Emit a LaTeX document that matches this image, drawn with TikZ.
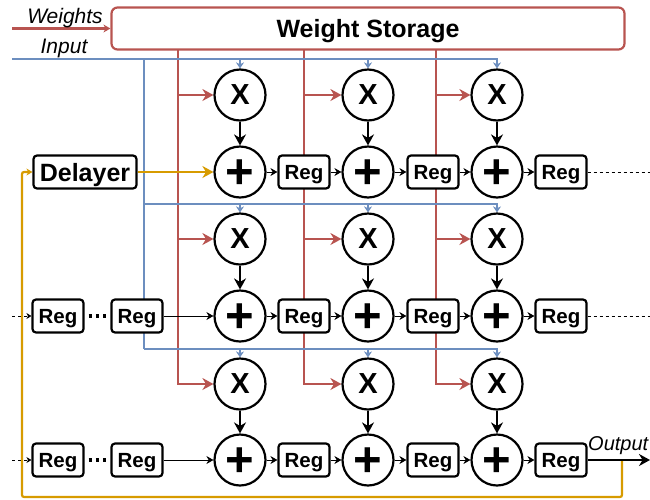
\documentclass[tikz,border=0pt]{standalone}
\usepackage{fontspec}
\setmainfont{Liberation Sans}
\usetikzlibrary{positioning, arrows.meta, backgrounds}

\definecolor{redline}{HTML}{B85450}
\definecolor{blueline}{HTML}{6C8EBF}
\definecolor{goldline}{HTML}{D79B00}

\begin{document}
\begin{tikzpicture}[
    x=1pt, y=-1pt,
    on grid,
    mulnode/.style={
        circle,
        draw,
        line width=2.2pt,
        fill=white,
        inner sep=0pt,
        minimum size=51pt,
        font=\fontsize{29}{29}\selectfont\bfseries
    },
    sumnode/.style={
        mulnode,
        text height=33.4pt,
        text depth=0pt,
        font=\fontsize{49}{49}\selectfont\bfseries
    },
    regnode/.style={
        rectangle,
        rounded corners=3.5pt,
        draw,
        line width=2.2pt,
        fill=white,
        inner sep=0pt,
        text depth=0pt,
        minimum width=51pt,
        minimum height=33pt,
        font=\fontsize{20.5}{20.5}\selectfont\bfseries
    },
    delaynode/.style={
        regnode,
        minimum width=103pt,
        font=\fontsize{25}{25}\selectfont\bfseries
    },
    storenode/.style={
        rectangle,
        rounded corners=6pt,
        draw=redline,
        line width=2.2pt,
        text depth=0pt,
        minimum width=513pt,
        minimum height=42pt,
        font=\fontsize{25}{25}\selectfont\bfseries
    },
    sidelabel/.style={
        inner sep=0pt,
        font=\fontsize{21}{21}\selectfont\itshape
    },
    blackptr/.style={
        -{Stealth[length=11pt, width=12pt]},
        line width=2.2pt
    },
    thinptr/.style={
        -{Stealth[length=7pt, width=8pt]},
        line width=1pt
    },
    redptr/.style={
        -{Stealth[length=11pt, width=12pt]},
        line width=2.2pt,
        redline
    },
    blueptr/.style={
        -{Stealth[length=6pt, width=8pt]},
        line width=2.2pt,
        blueline
    },
    bluebus/.style={
        line width=2.2pt,
        blueline
    },
    goldptr/.style={
        -{Stealth[length=11pt, width=12pt]},
        line width=2.2pt,
        goldline
    },
    dotline/.style={
        line width=1pt,
        dash pattern=on 3pt off 3pt
    },
    gapdots/.style={
        line width=3.4pt,
        dash pattern=on 3.4pt off 3.8pt,
        shorten >=4pt,
        shorten <=4pt
    }
]
    \useasboundingbox (0,0) rectangle (650,499);

    % Storage and side labels
    \node[storenode] (storage) at (368,28.5) {Weight Storage};
    \node[sidelabel] (weightsLabel) at (65,18) {Weights};
    \node[sidelabel] (inputLabel) at (64,48) {Input};
    \node[sidelabel, anchor=west, font=\fontsize{20}{20}\selectfont\itshape] (outputLabel) at (588,446) {Output};

    % Multipliers
    \node[mulnode] (mulA) at (240,95) {X};
    \node[mulnode, right=128pt of mulA] (mulB) {X};
    \node[mulnode, right=129pt of mulB] (mulC) {X};
    \node[mulnode] (mulD) at (240,239) {X};
    \node[mulnode, right=128pt of mulD] (mulE) {X};
    \node[mulnode, right=129pt of mulE] (mulF) {X};
    \node[mulnode] (mulG) at (240,384) {X};
    \node[mulnode, right=128pt of mulG] (mulH) {X};
    \node[mulnode, right=129pt of mulH] (mulI) {X};

    % Adders
    \node[sumnode, below=77pt of mulA] (sumA) {+};
    \node[sumnode, below=77pt of mulB] (sumB) {+};
    \node[sumnode, below=77pt of mulC] (sumC) {+};
    \node[sumnode, below=77pt of mulD] (sumD) {+};
    \node[sumnode, below=77pt of mulE] (sumE) {+};
    \node[sumnode, below=77pt of mulF] (sumF) {+};
    \node[sumnode, below=76pt of mulG] (sumG) {+};
    \node[sumnode, below=76pt of mulH] (sumH) {+};
    \node[sumnode, below=76pt of mulI] (sumI) {+};

    % Registers
    \node[regnode, right=64pt of sumA] (regA) {Reg};
    \node[regnode, right=65pt of sumB] (regB) {Reg};
    \node[regnode, right=64pt of sumC] (regC) {Reg};
    \node[regnode, right=64pt of sumD] (regD) {Reg};
    \node[regnode, right=65pt of sumE] (regE) {Reg};
    \node[regnode, right=64pt of sumF] (regF) {Reg};
    \node[regnode, right=64pt of sumG] (regG) {Reg};
    \node[regnode, right=65pt of sumH] (regH) {Reg};
    \node[regnode, right=64pt of sumI] (regI) {Reg};

    \node[delaynode, left=155pt of sumA] (delayer) {Delayer};
    \node[regnode, left=103pt of sumD] (regQ) {Reg};
    \node[regnode, left=79pt of regQ] (regP) {Reg};
    \node[regnode, left=103pt of sumG] (regS) {Reg};
    \node[regnode, left=79pt of regS] (regR) {Reg};

    % Free ends of the lines
    \coordinate (weightsIn) at (12,28.5);
    \coordinate (inputIn) at (12,59);
    \coordinate (blueDrop) at (144,59);
    \coordinate (blueMid) at (144,204);
    \coordinate (blueLow) at (144,349);
    \coordinate (redA) at (178,50);
    \coordinate (redB) at (304,50);
    \coordinate (redC) at (436,50);
    \coordinate (leftP) at (12,316);
    \coordinate (leftR) at (12,460);
    \coordinate (rightC) at (650,172);
    \coordinate (rightF) at (650,316);
    \coordinate (outEnd) at (650,460);
    \coordinate (goldOut) at (622,460);
    \coordinate (goldLeft) at (22,497);

    \begin{pgfonlayer}{background}
        % Weight lines
        \draw[redptr, -{Stealth[length=7pt, width=8pt]}] (weightsIn) -- (storage.west);
        \draw[redptr] (redA) |- (mulG);
        \draw[redptr] (redB) |- (mulH);
        \draw[redptr] (redC) |- (mulI);
        \draw[redptr] (redA |- mulA) -- (mulA);
        \draw[redptr] (redB |- mulB) -- (mulB);
        \draw[redptr] (redC |- mulC) -- (mulC);
        \draw[redptr] (redA |- mulD) -- (mulD);
        \draw[redptr] (redB |- mulE) -- (mulE);
        \draw[redptr] (redC |- mulF) -- (mulF);

        % Input lines
        \draw[blueptr] (inputIn) -| (mulC);
        \draw[bluebus] (blueDrop) -- (blueLow);
        \draw[blueptr] (blueMid) -| (mulF);
        \draw[blueptr] (blueLow) -| (mulI);
        \draw[blueptr] (mulA |- blueDrop) -- (mulA);
        \draw[blueptr] (mulB |- blueDrop) -- (mulB);
        \draw[blueptr] (mulD |- blueMid) -- (mulD);
        \draw[blueptr] (mulE |- blueMid) -- (mulE);
        \draw[blueptr] (mulG |- blueLow) -- (mulG);
        \draw[blueptr] (mulH |- blueLow) -- (mulH);
    \end{pgfonlayer}

    % Multiplier to adder
    \draw[blackptr] (mulA) -- (sumA);
    \draw[blackptr] (mulB) -- (sumB);
    \draw[blackptr] (mulC) -- (sumC);
    \draw[blackptr] (mulD) -- (sumD);
    \draw[blackptr] (mulE) -- (sumE);
    \draw[blackptr] (mulF) -- (sumF);
    \draw[blackptr] (mulG) -- (sumG);
    \draw[blackptr] (mulH) -- (sumH);
    \draw[blackptr] (mulI) -- (sumI);

    % Along the rows
    \draw[thinptr] (sumA) -- (regA);
    \draw[thinptr] (regA) -- (sumB);
    \draw[thinptr] (sumB) -- (regB);
    \draw[thinptr] (regB) -- (sumC);
    \draw[thinptr] (sumC) -- (regC);
    \draw[thinptr] (regQ) -- (sumD);
    \draw[thinptr] (sumD) -- (regD);
    \draw[thinptr] (regD) -- (sumE);
    \draw[thinptr] (sumE) -- (regE);
    \draw[thinptr] (regE) -- (sumF);
    \draw[thinptr] (sumF) -- (regF);
    \draw[thinptr] (regS) -- (sumG);
    \draw[thinptr] (sumG) -- (regG);
    \draw[thinptr] (regG) -- (sumH);
    \draw[thinptr] (sumH) -- (regH);
    \draw[thinptr] (regH) -- (sumI);
    \draw[thinptr] (sumI) -- (regI);

    % Dotted ends
    \draw[gapdots] (regP) -- (regQ);
    \draw[gapdots] (regR) -- (regS);
    \draw[dotline] (regC) -- (rightC);
    \draw[dotline] (regF) -- (rightF);
    \draw[dotline, -{Stealth[length=5pt, width=6pt]}] (leftP) -- (regP);
    \draw[dotline, -{Stealth[length=5pt, width=6pt]}] (leftR) -- (regR);

    % Output and its way back
    \draw[goldptr] (delayer) -- (sumA);
    \draw[goldptr, -{Stealth[length=6pt, width=7pt]}, rounded corners=2pt] (goldOut) |- (goldLeft) |- (delayer);
    \draw[blackptr] (regI) -- (outEnd);
\end{tikzpicture}
\end{document}
